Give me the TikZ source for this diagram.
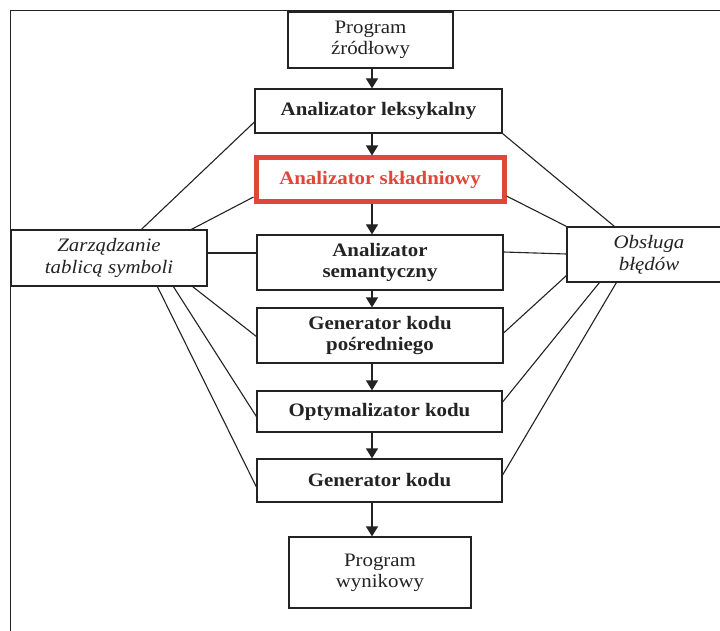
\documentclass[tikz,border=0pt]{standalone}
\usepackage{fontspec}
\setmainfont[FakeStretch=1.1]{Liberation Serif}
\usetikzlibrary{arrows.meta,calc}
\definecolor{boxred}{RGB}{222,72,58}
\definecolor{ink}{RGB}{35,35,35}
\begin{document}
\begin{tikzpicture}[x=1pt,y=-1pt,
  box/.style={draw=ink, line width=1.2pt, align=center, inner sep=0pt, text=ink,
    font=\fontsize{19}{21}\selectfont},
  stage/.style={box, font=\bfseries\fontsize{19}{21}\selectfont},
  side/.style={box, font=\itshape\fontsize{19}{22}\selectfont},
  arr/.style={draw=ink, line width=1.2pt, -{Triangle[length=10pt,width=12pt]}},
  link/.style={draw=ink, line width=1.1pt}]
\clip (0,0) rectangle (720,631);
\useasboundingbox (0,0) rectangle (720,631);
\fill[white] (0,0) rectangle (720,631);
% outer frame
\draw[ink, line width=1.2pt] (10.5,650) -- (10.5,10.5) -- (740,10.5);
% main chain
\node[box, minimum width=165pt, minimum height=56pt] (src) at (370.5,40) {Program\\źródłowy};
\node[stage, minimum width=247pt, minimum height=44pt] (lex) at (378.5,111) {Analizator leksykalny};
\node[stage, draw=boxred, text=boxred, line width=5pt, minimum width=248pt, minimum height=44pt] (syn) at (380,180) {Analizator składniowy};
\node[stage, minimum width=246pt, minimum height=55pt] (sem) at (380,262.5) {Analizator\\semantyczny};
\node[stage, minimum width=246pt, minimum height=55pt] (gen1) at (380,335.5) {Generator kodu\\pośredniego};
\node[stage, minimum width=245pt, minimum height=41pt] (opt) at (379.5,411.5) {Optymalizator kodu};
\node[stage, minimum width=245pt, minimum height=43pt] (gen) at (379.5,480.5) {Generator kodu};
\node[box, minimum width=182pt, minimum height=71pt] (out) at (380,572.5) {Program\\wynikowy};
% side boxes
\node[side, minimum width=196pt, minimum height=56pt] (zarz) at (109,258) {Zarządzanie\\tablicą symboli};
\node[side, minimum width=168pt, minimum height=55pt, text width=168pt] (obs) at (651,254.5) {\hspace*{-4pt}Obsługa\\\hspace*{-4pt}błędów};
% arrows
\coordinate (ax) at (372,0);
\draw[arr] (src.south -| ax) -- (lex.north -| ax);
\draw[arr] (lex.south -| ax) -- (syn.north -| ax);
\draw[arr] (syn.south -| ax) -- (sem.north -| ax);
\draw[arr] (sem.south -| ax) -- (gen1.north -| ax);
\draw[arr] (gen1.south -| ax) -- (opt.north -| ax);
\draw[arr] (opt.south -| ax) -- (gen.north -| ax);
\draw[arr] (gen.south -| ax) -- (out.north -| ax);
% symbol table links
\draw[link] ($(zarz.north west)+(131,0)$) -- ($(lex.west)+(0,11)$);
\draw[link] ($(zarz.north west)+(181,0)$) -- ($(syn.west)+(0,17)$);
\draw[link] ($(zarz.east)+(0,-5)$) -- ($(sem.west)+(0,-9.5)$);
\draw[link] ($(zarz.south east)+(-15,0)$) -- ($(gen1.west)+(0,1)$);
\draw[link] ($(zarz.south west)+(163,0)$) -- ($(opt.west)+(0,5)$);
\draw[link] ($(zarz.south west)+(147,0)$) -- ($(gen.west)+(0,6.5)$);
% error handling links
\draw[link] (lex.south east) -- ($(obs.north west)+(48,0)$);
\draw[link] ($(syn.east)+(0,16)$) -- (obs.north west);
\draw[link] ($(sem.east)+(0,-10.5)$) -- ($(obs.west)+(0,-0.5)$);
\draw[link] ($(gen1.east)+(0,-2.5)$) -- ($(obs.south west)+(0,-7)$);
\draw[link] ($(opt.east)+(0,-9.5)$) -- ($(obs.south west)+(33,0)$);
\draw[link] ($(gen.east)+(0,-5.5)$) -- ($(obs.south west)+(50,0)$);
\end{tikzpicture}
\end{document}
